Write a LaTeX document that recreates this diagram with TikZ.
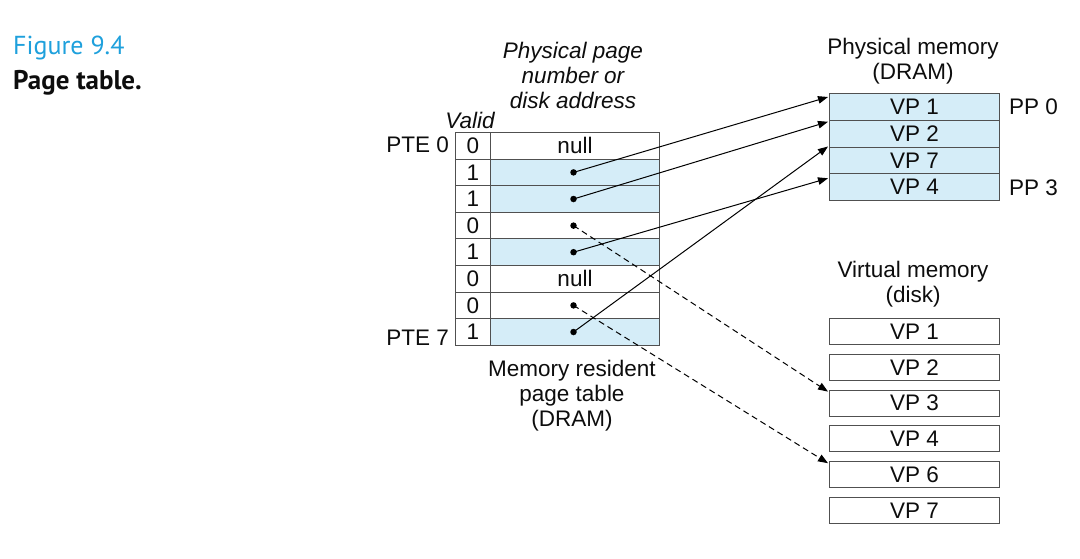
\documentclass[tikz,border=0pt]{standalone}
\usepackage{fontspec}
\setmainfont{Liberation Sans}
\newfontfamily\capfont{PT Sans}
\usetikzlibrary{arrows.meta,calc}
\definecolor{cellblue}{RGB}{213,237,248}
\definecolor{boxline}{RGB}{80,80,80}
\definecolor{figcyan}{RGB}{30,160,220}
\begin{document}
\begin{tikzpicture}[x=1pt,y=-1pt,
  every node/.style={font=\fontsize{22.5}{25}\selectfont, text=black!95},
  cell/.style={draw=boxline, line width=1pt, anchor=north west, inner sep=0pt, minimum height=26.6pt},
  vcell/.style={cell, minimum width=35pt},
  acell/.style={cell, minimum width=169pt},
  pcell/.style={cell, minimum width=170pt, minimum height=26.75pt, fill=cellblue},
  dcell/.style={cell, minimum width=170pt, minimum height=26pt},
  lbl/.style={align=center, inner sep=0pt},
  ptr/.style={line width=1pt, -{Triangle[length=10pt,width=7.5pt]}},
  dptr/.style={ptr, dash pattern=on 6pt off 4pt},
  ptrdot/.style={circle, fill=black, inner sep=0pt, minimum size=6.5pt}
]
\useasboundingbox (0,0) rectangle (1080,558);
% caption
\node[anchor=west, inner sep=0pt, font=\capfont\fontsize{26}{30}\selectfont, text=figcyan] (fig) at (13,48) {Figure 9.4};
\node[anchor=west, inner sep=0pt, font=\capfont\bfseries\fontsize{27}{30}\selectfont] (cap) at (13,83) {Page table.};
% page table
\foreach \i/\v/\f in {0/0/white,1/1/cellblue,2/1/cellblue,3/0/white,4/1/cellblue,5/0/white,6/0/white,7/1/cellblue}{
  \node[vcell] (v\i) at (455,{132+26.6*\i}) {\v};
  \node[acell, fill=\f] (a\i) at (490,{132+26.6*\i}) {};
}
\node at (a0) {null};
\node at (a5) {null};
\foreach \i in {1,2,3,4,6,7}{
  \node[ptrdot] (d\i) at ($(a\i.center)+(-1.5,0)$) {};
}
\node[lbl, anchor=east] (pte0) at (449,145) {PTE 0};
\node[lbl, anchor=east] (pte7) at (449,338) {PTE 7};
\node[lbl, font=\itshape\fontsize{22.5}{25}\selectfont] (valid) at (470,120) {Valid};
\node[lbl, font=\itshape\fontsize{22.5}{25}\selectfont] (ppn) at (573,75) {Physical page\\number or\\disk address};
\node[lbl] (mrpt) at (572,396) {Memory resident\\page table\\(DRAM)};
% physical memory
\foreach \i/\t in {0/VP 1,1/VP 2,2/VP 7,3/VP 4}{
  \node[pcell] (p\i) at (829,{93+26.75*\i}) {\t};
}
\node[lbl] (pmem) at (913,61) {Physical memory\\(DRAM)};
\node[lbl, anchor=west] (pp0) at (1009,107) {PP 0};
\node[lbl, anchor=west] (pp3) at (1009,188) {PP 3};
% virtual memory
\foreach \i/\t in {1/VP 1,2/VP 2,3/VP 3,4/VP 4,5/VP 6,6/VP 7}{
  \node[dcell] (m\i) at (829,{318+35.8*(\i-1)}) {\t};
}
\node[lbl] (vmem) at (913,284) {Virtual memory\\(disk)};
% pointers
\draw[ptr] (d1.center) -- ($(p0.north west)+(-1,4)$);
\draw[ptr] (d2.center) -- ($(p1.north west)+(-1,2)$);
\draw[ptr] (d7.center) -- ($(p2.north west)+(-1,0)$);
\draw[ptr] (d4.center) -- ($(p3.north west)+(-1,5)$);
\draw[dptr] (d3.center) -- ($(m3.north west)+(-1,2)$);
\draw[dptr] (d6.center) -- ($(m5.north west)+(-1,2)$);
\end{tikzpicture}
\end{document}
